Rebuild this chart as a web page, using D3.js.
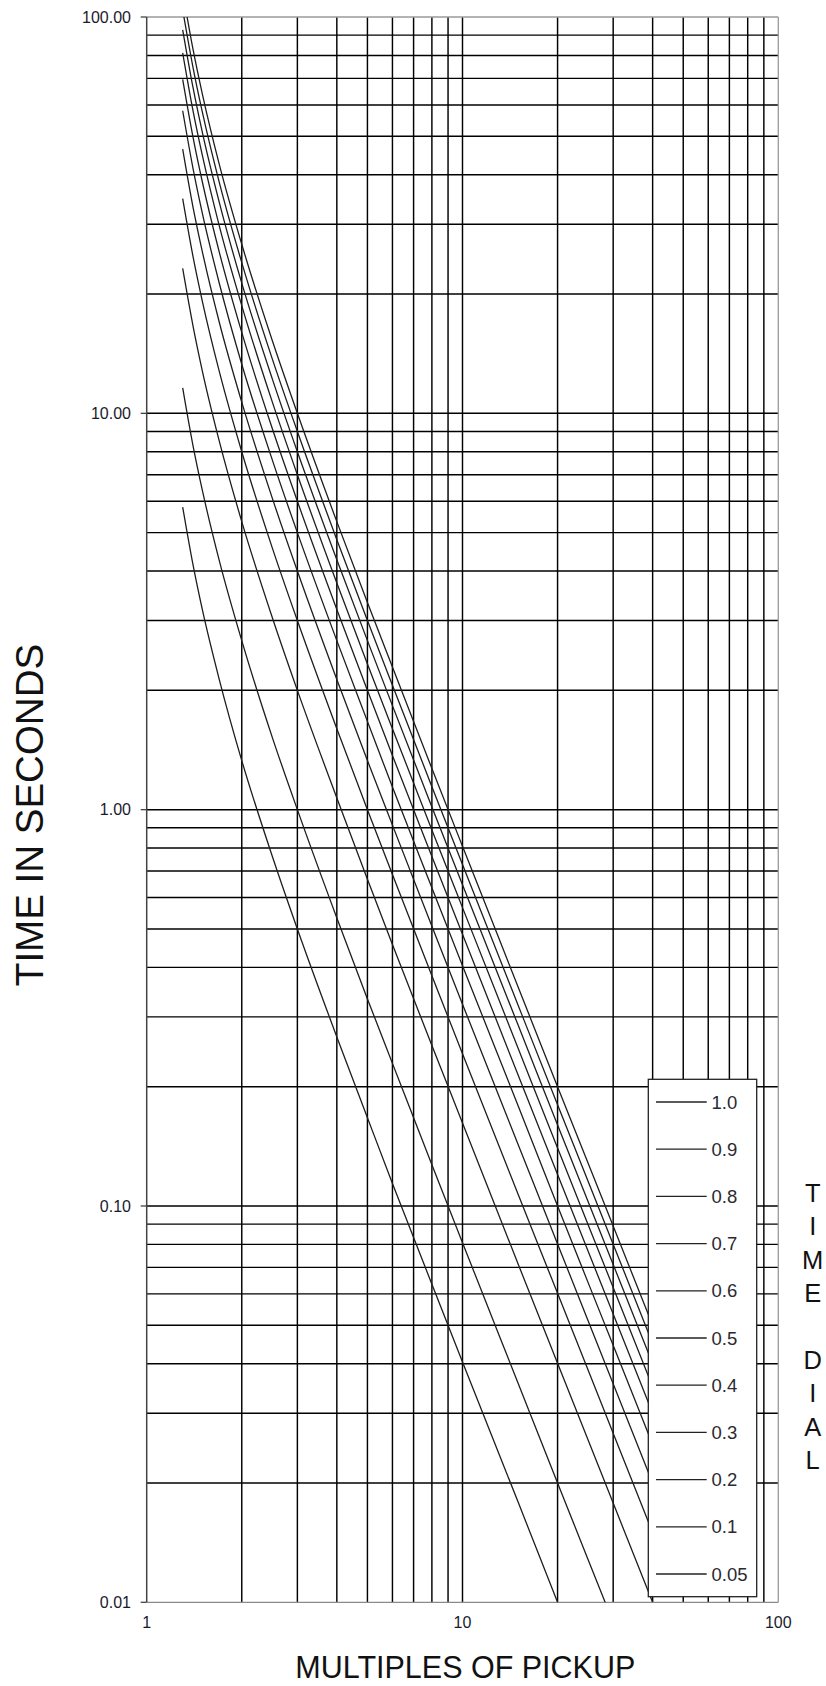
<!DOCTYPE html>
<html>
<head>
<meta charset="utf-8">
<script src="https://cdn.jsdelivr.net/npm/d3@7"></script>
<style>
  html, body { margin: 0; padding: 0; background: #fff; }
  svg { display: block; font-family: "Liberation Sans", Arial, sans-serif; }
</style>
</head>
<body>
<svg id="chart" width="826" height="1686"></svg>
<script>
// ---- data ----
const multiples = [1.3, 1.4, 1.5, 1.7, 2, 2.5, 3, 4, 5, 6, 8, 10, 15, 20, 30, 40];
const dial100 = [115.9, 83.3, 64.0, 42.3, 26.7, 15.24, 10.0, 5.33, 3.33, 2.29, 1.27, 0.808, 0.357, 0.200, 0.0890, 0.0500];
const dial090 = [104.3, 75.0, 57.6, 38.1, 24.0, 13.7, 9.0, 4.80, 3.00, 2.06, 1.143, 0.727, 0.321, 0.180, 0.0801, 0.0450];
const dial080 = [92.8, 66.7, 51.2, 33.9, 21.3, 12.2, 8.0, 4.27, 2.67, 1.83, 1.016, 0.646, 0.286, 0.160, 0.0712, 0.0400];
const dial070 = [81.2, 58.3, 44.8, 29.6, 18.7, 10.67, 7.0, 3.73, 2.33, 1.60, 0.889, 0.566, 0.250, 0.140, 0.0623, 0.0350];
const dial060 = [69.6, 50.0, 38.4, 25.4, 16.0, 9.14, 6.0, 3.20, 2.00, 1.37, 0.762, 0.485, 0.214, 0.120, 0.0534, 0.0300];
const dial050 = [58.0, 41.7, 32.0, 21.2, 13.3, 7.62, 5.0, 2.67, 1.67, 1.14, 0.635, 0.404, 0.179, 0.100, 0.0445, 0.0250];
const dial040 = [46.4, 33.3, 25.6, 16.9, 10.67, 6.10, 4.0, 2.13, 1.33, 0.914, 0.508, 0.323, 0.143, 0.0802, 0.0356, 0.0200];
const dial030 = [34.8, 25.0, 19.2, 12.7, 8.0, 4.57, 3.0, 1.60, 1.00, 0.686, 0.381, 0.242, 0.107, 0.0602, 0.0267, 0.0150];
const dial020 = [23.2, 16.7, 12.8, 8.47, 5.33, 3.05, 2.0, 1.07, 0.667, 0.457, 0.254, 0.162, 0.0714, 0.0401, 0.0178, 0.0100];
const dial010 = [11.6, 8.33, 6.4, 4.23, 2.67, 1.52, 1.0, 0.533, 0.333, 0.229, 0.127, 0.0808, 0.0357, 0.0200, 0.0089, 0.0050];
const dial005 = [5.80, 4.17, 3.2, 2.12, 1.33, 0.762, 0.5, 0.267, 0.167, 0.114, 0.0635, 0.0404, 0.0179, 0.0100, 0.00445, 0.0025];

const dialLabels = ["1.0", "0.9", "0.8", "0.7", "0.6", "0.5", "0.4", "0.3", "0.2", "0.1", "0.05"];
const dialSeries = [dial100, dial090, dial080, dial070, dial060, dial050, dial040, dial030, dial020, dial010, dial005];

const xTickLabels = [1, 10, 100];
const yTickLabels = [100, 10, 1, 0.1, 0.01];
const xTitle = "MULTIPLES OF PICKUP";
const yTitle = "TIME IN SECONDS";
const legendTitle = ["T", "I", "M", "E", "", "D", "I", "A", "L"];

// ---- layout ----
const L = 146.7, R = 778.3, T = 17, B = 1602.3;
const svg = d3.select("#chart");
const x = d3.scaleLog().domain([1, 100]).range([L, R]);
const y = d3.scaleLog().domain([0.01, 100]).range([B, T]);

svg.append("defs").append("clipPath").attr("id", "plotclip")
  .append("rect").attr("x", L).attr("y", T).attr("width", R - L).attr("height", B - T);

// grid
const grid = svg.append("g");
grid.selectAll("line.v").data(x.ticks().filter(v => v > 1 && v < 100)).join("line")
  .attr("x1", d => x(d)).attr("x2", d => x(d)).attr("y1", T).attr("y2", B)
  .attr("stroke", "#000").attr("stroke-width", 1.45);
grid.selectAll("line.h").data(y.ticks().filter(v => v > 0.01 && v < 100)).join("line")
  .attr("y1", d => y(d)).attr("y2", d => y(d)).attr("x1", L).attr("x2", R)
  .attr("stroke", "#000").attr("stroke-width", 1.45);

// frame
svg.append("line").attr("x1", L).attr("x2", R).attr("y1", T).attr("y2", T).attr("stroke", "#9a9a9a").attr("stroke-width", 1.3);
svg.append("line").attr("x1", R).attr("x2", R).attr("y1", T).attr("y2", B).attr("stroke", "#9a9a9a").attr("stroke-width", 1.3);
svg.append("line").attr("x1", L).attr("x2", R).attr("y1", B).attr("y2", B).attr("stroke", "#8a8a8a").attr("stroke-width", 1.3);
svg.append("line").attr("x1", L).attr("x2", L).attr("y1", T).attr("y2", B).attr("stroke", "#444").attr("stroke-width", 1.5);

// curves
const line = d3.line()
  .x((d, i) => x(multiples[i]))
  .y(d => y(d))
  .curve(d3.curveMonotoneX);
svg.append("g").attr("clip-path", "url(#plotclip)")
  .selectAll("path").data(dialSeries).join("path")
  .attr("d", d => line(d))
  .attr("fill", "none").attr("stroke", "#1e1e1e").attr("stroke-width", 1.3);

// y ticks & labels
svg.selectAll("line.yt").data(yTickLabels).join("line")
  .attr("x1", L - 6).attr("x2", L).attr("y1", d => y(d)).attr("y2", d => y(d))
  .attr("stroke", "#444").attr("stroke-width", 1.3);
svg.selectAll("text.yl").data(yTickLabels).join("text")
  .attr("x", 131).attr("y", d => y(d) + 5.8)
  .attr("text-anchor", "end").attr("font-size", 16).attr("fill", "#1a1a2e")
  .text(d => d3.format(".2f")(d));

// x labels
svg.selectAll("text.xl").data(xTickLabels).join("text")
  .attr("x", d => x(d)).attr("y", 1627.5)
  .attr("text-anchor", "middle").attr("font-size", 16).attr("fill", "#1a1a2e")
  .text(d => d);

// titles
svg.append("text").attr("x", 465.3).attr("y", 1678).attr("text-anchor", "middle")
  .attr("font-size", 30.5).attr("fill", "#111").text(xTitle);
svg.append("text").attr("transform", "translate(43.3,815) rotate(-90)").attr("text-anchor", "middle")
  .attr("font-size", 38.5).attr("fill", "#111").text(yTitle);

// legend box
const lg = svg.append("g");
lg.append("rect").attr("x", 648.3).attr("y", 1079.3).attr("width", 108.4).attr("height", 517.4)
  .attr("fill", "#fff").attr("stroke", "#222").attr("stroke-width", 1.3);
const lgY = d3.scalePoint().domain(dialLabels).range([1102, 1574]);
lg.selectAll("line.li").data(dialLabels).join("line")
  .attr("x1", 656).attr("x2", 706.7).attr("y1", d => lgY(d)).attr("y2", d => lgY(d))
  .attr("stroke", "#222").attr("stroke-width", 1.3);
lg.selectAll("text.lt").data(dialLabels).join("text")
  .attr("x", 711.5).attr("y", d => lgY(d) + 6.6)
  .attr("font-size", 18.5).attr("fill", "#2a2a30").text(d => d);

// TIME DIAL vertical label
const tdY = d3.scaleLinear().domain([0, legendTitle.length - 1]).range([1192.7, 1460]);
svg.selectAll("text.td").data(legendTitle).join("text")
  .attr("x", 812.7).attr("y", (d, i) => tdY(i) + 9.2)
  .attr("text-anchor", "middle").attr("font-size", 25.5).attr("fill", "#111")
  .text(d => d);
</script>
</body>
</html>
